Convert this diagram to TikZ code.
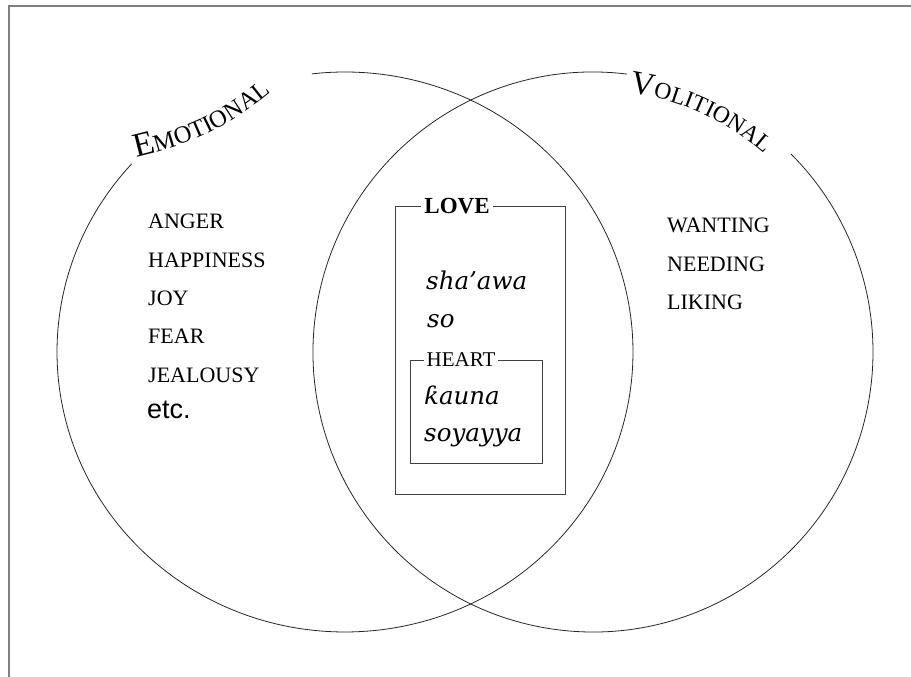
\documentclass[tikz,border=0pt]{standalone}
\usepackage{fontspec}
\setmainfont{Liberation Serif}
\newfontfamily\etcfont{Liberation Sans}
\newfontfamily\hausafont{DejaVu Serif}
\usetikzlibrary{decorations.text}

\tikzset{
    listitem/.style={anchor=base west, inner sep=0pt, font=\fontsize{22}{24}\selectfont},
    hausa/.style={anchor=base west, inner sep=0pt, font=\hausafont\itshape\fontsize{24.5}{26}\selectfont},
    boxlabel/.style={fill=white, inner xsep=3pt, inner ysep=0pt},
    ring/.style={line width=0.8pt, black!85},
    box/.style={line width=0.8pt, black!75}
}

\begin{document}
\begin{tikzpicture}[x=1pt, y=1pt]
    \useasboundingbox (0,0) rectangle (911,677);
    \coordinate (Lc) at (345,325);
    \coordinate (Rc) at (593,325);
    \draw[gray, line width=1.2pt] (911,671) -- (9,671) -- (9,0);
    \draw[ring] (Lc) ++(137.8:288 and 280)
    arc[start angle=137.8, end angle=456.6, x radius=288, y radius=280];
    \draw[ring] (Rc) ++(83:280)
    arc[start angle=83, end angle=405, radius=280];
    \path[decorate, decoration={text along path,
    text={|\fontsize{34}{34}\selectfont|E|\fontsize{24.5}{24.5}\selectfont|MOTIONAL}}]
    (136,520) to[bend right=14] (284,596);
    \path[decorate, decoration={text along path,
    text={|\fontsize{33}{33}\selectfont|V|\fontsize{23.5}{23.5}\selectfont|OLITIONAL}}]
    (Rc) ++(82:262) arc[start angle=82, end angle=40, radius=262];
    \node[listitem] (anger) at (148,448) {ANGER};
    \node[listitem] (happiness) at (148,409) {HAPPINESS};
    \node[listitem] (joy) at (148,371) {JOY};
    \node[listitem] (fear) at (148,333) {FEAR};
    \node[listitem] (jealousy) at (148,294) {JEALOUSY};
    \node[anchor=base west, inner sep=0pt, font=\etcfont\fontsize{27}{27}\selectfont] (etc) at (147,258) {etc.};
    \node[listitem] (wanting) at (667,444) {WANTING};
    \node[listitem] (needing) at (667,405) {NEEDING};
    \node[listitem] (liking) at (667,367) {LIKING};
    \draw[box] (395,183) rectangle (565,471);
    \node[boxlabel, font=\bfseries\fontsize{23}{23}\selectfont] (love) at (457,471) {LOVE};
    \node[hausa] (shaawa) at (426,387) {sha’awa};
    \node[hausa] (so) at (427,349) {so};
    \draw[box] (410,214) rectangle (542,317);
    \node[boxlabel, font=\fontsize{21}{21}\selectfont] (heart) at (461,317) {HEART};
    \node[hausa] (kauna) at (424,272) {ƙauna};
    \node[hausa] (soyayya) at (424,235) {soyayya};
\end{tikzpicture}
\end{document}
